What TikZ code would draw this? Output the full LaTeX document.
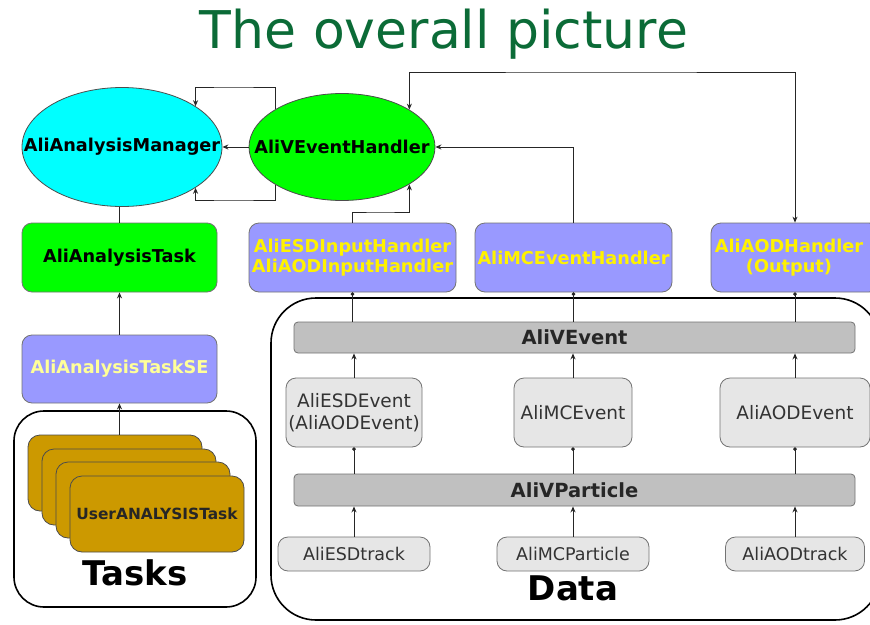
\documentclass[tikz,border=0pt]{standalone}
\usepackage{fontspec}
\setmainfont{DejaVu Sans}
\usetikzlibrary{shapes.geometric,arrows.meta}
\definecolor{titlegreen}{HTML}{0B6B37}
\definecolor{hblue}{HTML}{9999FF}
\definecolor{cyanfill}{HTML}{00FFFF}
\definecolor{greenfill}{HTML}{00FF00}
\definecolor{gold}{HTML}{CC9900}
\definecolor{barfill}{HTML}{C0C0C0}
\definecolor{evfill}{HTML}{E6E6E6}
\definecolor{paleyellow}{HTML}{FFFF99}
\tikzset{
  lbl/.style={font=\fontsize{17.7}{20}\selectfont\bfseries, align=center, inner sep=0pt},
  ell/.style={ellipse, draw=black!70, line width=0.8pt, lbl},
  hbox/.style={rectangle, rounded corners=10pt, draw=black!55, line width=0.8pt, fill=hblue, text=yellow, lbl},
  gbox/.style={rectangle, rounded corners=10pt, draw=black!55, line width=0.8pt, fill=greenfill, lbl},
  bar/.style={rectangle, rounded corners=4pt, draw=black!55, line width=0.8pt, fill=barfill, lbl, font=\fontsize{19.5}{21}\selectfont\bfseries, text=black!85},
  evbox/.style={rectangle, rounded corners=10pt, draw=black!55, line width=0.8pt, fill=evfill, font=\fontsize{18.5}{22}\selectfont, align=center, inner sep=0pt, text=black!80},
  trbox/.style={evbox, font=\fontsize{17.5}{20}\selectfont},
  card/.style={rectangle, rounded corners=12pt, draw=black!70, line width=0.8pt, fill=gold, minimum width=174pt, minimum height=76pt, inner sep=0pt},
  frame/.style={rectangle, draw=black, line width=1.6pt, inner sep=0pt},
  conn/.style={draw=black!85, line width=1pt},
  arr/.style={conn, -{Stealth[length=6pt,width=5pt]}},
  barr/.style={conn, {Stealth[length=6pt,width=5pt]}-{Stealth[length=6pt,width=5pt]}},
  dotl/.style={conn, {Circle[length=3.5pt]}-},
  big/.style={font=\fontsize{34}{36}\selectfont\bfseries, inner sep=0pt}
}
\begin{document}
\begin{tikzpicture}[x=1pt, y={(0pt,-1pt)}]
\useasboundingbox (0,0) rectangle (870,624);
\fill[white] (0,0) rectangle (870,624);
\begin{scope}
\clip (0,0) rectangle (870,624);

% title
\node[font=\fontsize{52}{56}\selectfont, text=titlegreen, anchor=base, inner sep=0pt] (title) at (444,48) {The overall picture};

% frames
\node[frame, rounded corners=30pt, minimum width=242pt, minimum height=196pt] (tasksframe) at (135,509) {};
\node[frame, rounded corners=45pt, minimum width=609pt, minimum height=322pt] (dataframe) at (575.5,459) {};

% ellipses
\node[ell, fill=cyanfill, minimum width=200pt, minimum height=119pt] (mgr) at (122,147) {\makebox[0pt]{AliAnalysisManager}};
\node[ell, fill=greenfill, minimum width=186pt, minimum height=107pt] (veh) at (342,147) {\makebox[0pt]{AliVEventHandler}};

% handler row
\node[gbox, minimum width=195pt, minimum height=69pt] (task) at (119.5,257.5) {AliAnalysisTask};
\node[hbox, minimum width=207pt, minimum height=69pt] (esdh) at (352.5,257.5) {AliESDInputHandler\\AliAODInputHandler};
\node[hbox, minimum width=197pt, minimum height=69pt] (mch) at (573.5,257.5) {AliMCEventHandler};
\node[hbox, minimum width=168pt, minimum height=69pt] (aodh) at (795,257.5) {\hspace*{-12pt}AliAODHandler\\\hspace*{-12pt}(Output)};

% task SE
\node[hbox, text=paleyellow, minimum width=195pt, minimum height=68pt] (tse) at (119.5,369) {AliAnalysisTaskSE};

% user tasks stack
\node[card] (card1) at (115,473) {};
\node[card] (card2) at (129,487) {};
\node[card] (card3) at (143,500) {};
\node[card, font=\fontsize{15.4}{17}\selectfont\bfseries, text=black!85] (card4) at (157,514) {UserANALYSISTask};
\node[big] (taskslbl) at (135,573) {Tasks};

% data region
\node[bar, minimum width=561pt, minimum height=31pt] (vev) at (574.5,337.5) {AliVEvent};
\node[evbox, minimum width=136pt, minimum height=69pt] (esde) at (354,412.5) {AliESDEvent\\(AliAODEvent)};
\node[evbox, minimum width=118pt, minimum height=69pt] (mce) at (573,412.5) {AliMCEvent};
\node[evbox, minimum width=150pt, minimum height=69pt] (aode) at (795,412.5) {AliAODEvent};
\node[bar, minimum width=561pt, minimum height=32pt] (vpart) at (574.5,490) {AliVParticle};
\node[trbox, minimum width=152pt, minimum height=34pt] (esdt) at (354,554) {AliESDtrack};
\node[trbox, minimum width=152pt, minimum height=34pt] (mcp) at (573,554) {AliMCParticle};
\node[trbox, minimum width=139pt, minimum height=34pt] (aodt) at (795,554) {AliAODtrack};
\node[big] (datalbl) at (573,588) {Data};

% manager <-> event handler
\draw[arr] (veh.west) -- (mgr.east);
\draw[arr] (veh.150) |- (232,87) -| (mgr.29);
\draw[arr] (veh.210) |- (232,200) -| (mgr.-29);
\draw[conn] (task.north) -- (task.north |- mgr.south);

% handlers to event handler
\draw[arr] (esdh.north) |- (380,212) -| (veh.-29);
\draw[arr] (mch.north) |- (veh.east);
\draw[barr] (aodh.north) |- (600,72) -| (veh.29);

% tasks
\draw[arr] (tse.north) -- (task.south);
\draw[arr] (card1.north -| tse.south) -- (tse.south);

% data connectors
\draw[dotl] (esdh.south) -- (vev.north -| esdh.south);
\draw[dotl] (mch.south) -- (vev.north -| mch.south);
\draw[dotl] (aodh.south) -- (vev.north -| aodh.south);
\draw[arr] (esde.north) -- (vev.south -| esde.north);
\draw[arr] (mce.north) -- (vev.south -| mce.north);
\draw[arr] (aode.north) -- (vev.south -| aode.north);
\draw[dotl] (esde.south) -- (vpart.north -| esde.south);
\draw[dotl] (mce.south) -- (vpart.north -| mce.south);
\draw[dotl] (aode.south) -- (vpart.north -| aode.south);
\draw[arr] (esdt.north) -- (vpart.south -| esdt.north);
\draw[arr] (mcp.north) -- (vpart.south -| mcp.north);
\draw[arr] (aodt.north) -- (vpart.south -| aodt.north);
\end{scope}
\end{tikzpicture}
\end{document}
